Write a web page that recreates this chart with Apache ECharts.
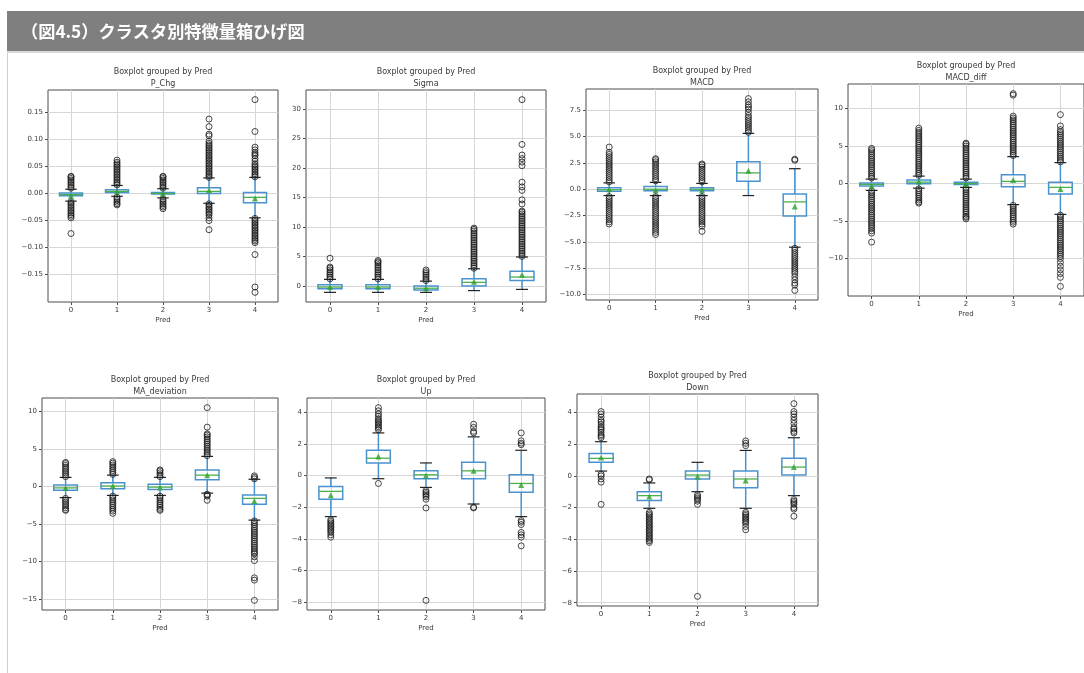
<!DOCTYPE html>
<html>
<head>
<meta charset="utf-8">
<script src="https://cdn.jsdelivr.net/npm/echarts@6/dist/echarts.min.js"></script>
<style>
  html, body { margin: 0; padding: 0; background: #ffffff; }
  #chart { width: 1084px; height: 673px; }
</style>
</head>
<body>
<div id="chart"></div>
<script>
// ---- text ----
const heading = '（図4.5）クラスタ別特徴量箱ひげ図';
const suptitle = 'Boxplot grouped by Pred';
const xName = 'Pred';
const clusters = [0, 1, 2, 3, 4];

// ---- per-feature statistics ----
// boxes: [lower whisker, Q1, median, Q3, upper whisker] per cluster
// fliers: outlying observations per cluster

const pChgBoxes = [
  [-0.014, -0.004, -0.002, 0.001, 0.008],
  [-0.005, 0.002, 0.004, 0.007, 0.015],
  [-0.008, -0.001, 0.000, 0.002, 0.009],
  [-0.018, 0.000, 0.004, 0.011, 0.029],
  [-0.045, -0.017, -0.007, 0.002, 0.030]
];
const pChgMeans = [-0.004, 0.004, 0.000, 0.006, -0.009];
const pChgFliers = [
  [0.010, 0.013, 0.016, 0.019, 0.022, 0.025, 0.028, 0.031, 0.032,
   -0.015, -0.018, -0.021, -0.024, -0.027, -0.030, -0.033, -0.036, -0.039, -0.042, -0.045, -0.074],
  [0.016, 0.019, 0.022, 0.025, 0.028, 0.031, 0.034, 0.037, 0.040, 0.043, 0.046, 0.049, 0.052, 0.055, 0.058, 0.062,
   -0.007, -0.010, -0.013, -0.016, -0.019, -0.021],
  [0.010, 0.013, 0.016, 0.019, 0.022, 0.025, 0.028, 0.031, 0.032,
   -0.010, -0.013, -0.016, -0.019, -0.022, -0.025, -0.028],
  [0.030, 0.033, 0.036, 0.039, 0.042, 0.045, 0.048, 0.051, 0.054, 0.057, 0.060, 0.063, 0.066, 0.069, 0.072,
   0.075, 0.078, 0.081, 0.084, 0.087, 0.090, 0.093, 0.097, 0.107, 0.110, 0.124, 0.138,
   -0.019, -0.022, -0.025, -0.028, -0.031, -0.034, -0.037, -0.040, -0.045, -0.050, -0.067],
  [0.031, 0.034, 0.037, 0.040, 0.043, 0.046, 0.049, 0.052, 0.055, 0.060, 0.065, 0.070, 0.073, 0.076, 0.081, 0.086,
   0.115, 0.174,
   -0.046, -0.049, -0.052, -0.055, -0.058, -0.061, -0.064, -0.067, -0.070, -0.073, -0.076, -0.079, -0.082,
   -0.085, -0.088, -0.091, -0.113, -0.173, -0.183]
];
const pChgTicks = [-0.15, -0.10, -0.05, 0.00, 0.05, 0.10, 0.15];

const sigmaBoxes = [
  [-1.1, -0.5, -0.2, 0.2, 1.1],
  [-1.1, -0.5, -0.2, 0.2, 1.1],
  [-1.1, -0.7, -0.4, 0.0, 0.8],
  [-0.8, 0.0, 0.6, 1.2, 2.9],
  [-0.6, 0.9, 1.5, 2.5, 4.9]
];
const sigmaMeans = [-0.2, -0.2, -0.4, 0.7, 1.9];
const sigmaFliers = [
  [1.2, 1.5, 1.8, 2.1, 2.4, 2.7, 3.0, 3.2, 4.7],
  [1.2, 1.5, 1.8, 2.1, 2.4, 2.7, 3.0, 3.3, 3.6, 3.9, 4.1, 4.3],
  [0.9, 1.2, 1.5, 1.8, 2.1, 2.4, 2.7],
  [3.0, 3.3, 3.6, 3.9, 4.2, 4.5, 4.8, 5.1, 5.4, 5.7, 6.0, 6.3, 6.6, 6.9, 7.2, 7.5, 7.8, 8.1, 8.4, 8.7,
   9.0, 9.3, 9.6, 9.8],
  [5.0, 5.3, 5.6, 5.9, 6.2, 6.5, 6.8, 7.1, 7.4, 7.7, 8.0, 8.3, 8.6, 8.9, 9.2, 9.5, 9.8, 10.1, 10.4, 10.7,
   11.0, 11.3, 11.6, 11.9, 12.2, 12.5, 12.7, 13.9, 14.6, 16.2, 16.8, 17.6, 20.4, 21.0, 21.6, 22.2, 24.0, 31.6]
];
const sigmaTicks = [0, 5, 10, 15, 20, 25, 30];

const macdBoxes = [
  [-0.6, -0.2, -0.05, 0.15, 0.6],
  [-0.6, -0.15, 0.0, 0.25, 0.65],
  [-0.6, -0.15, 0.0, 0.15, 0.55],
  [-0.6, 0.75, 1.55, 2.6, 5.3],
  [-5.5, -2.55, -1.2, -0.45, 1.95]
];
const macdMeans = [0.0, -0.1, -0.1, 1.75, -1.65];
const macdFliers = [
  [0.7, 0.9, 1.1, 1.3, 1.5, 1.7, 1.9, 2.1, 2.3, 2.5, 2.7, 2.9, 3.1, 3.3, 3.5, 4.0,
   -0.7, -0.9, -1.1, -1.3, -1.5, -1.7, -1.9, -2.1, -2.3, -2.5, -2.7, -2.9, -3.1, -3.3],
  [0.8, 1.0, 1.2, 1.4, 1.6, 1.8, 2.0, 2.2, 2.4, 2.6, 2.8, 2.9,
   -0.7, -0.9, -1.1, -1.3, -1.5, -1.7, -1.9, -2.1, -2.3, -2.5, -2.7, -2.9, -3.1, -3.3, -3.5, -3.7, -3.9, -4.1, -4.3],
  [0.7, 0.9, 1.1, 1.3, 1.5, 1.7, 1.9, 2.1, 2.3, 2.4,
   -0.7, -0.9, -1.1, -1.3, -1.5, -1.7, -1.9, -2.1, -2.3, -2.5, -2.7, -2.9, -3.1, -3.3, -3.5, -4.0],
  [5.4, 5.6, 5.8, 6.0, 6.2, 6.4, 6.6, 6.8, 7.0, 7.3, 7.6, 7.8, 8.0, 8.3, 8.6],
  [2.75, 2.85,
   -5.6, -5.8, -6.0, -6.2, -6.4, -6.6, -6.8, -7.0, -7.2, -7.4, -7.6, -7.8, -8.0, -8.3, -8.6, -8.9, -9.1, -9.6]
];
const macdTicks = [-10, -7.5, -5, -2.5, 0, 2.5, 5, 7.5];

const macdDiffBoxes = [
  [-0.9, -0.3, -0.1, 0.1, 0.6],
  [-0.6, 0.0, 0.2, 0.5, 1.0],
  [-0.5, -0.1, 0.0, 0.2, 0.6],
  [-2.8, -0.4, 0.3, 1.2, 3.6],
  [-4.1, -1.4, -0.5, 0.2, 2.8]
];
const macdDiffMeans = [-0.3, 0.3, -0.05, 0.5, -0.7];
const macdDiffFliers = [
  [0.75, 1.0, 1.25, 1.5, 1.75, 2.0, 2.25, 2.5, 2.75, 3.0, 3.25, 3.5, 3.75, 4.0, 4.25, 4.5, 4.7,
   -1.0, -1.25, -1.5, -1.75, -2.0, -2.25, -2.5, -2.75, -3.0, -3.25, -3.5, -3.75, -4.0, -4.25, -4.5, -4.75,
   -5.0, -5.25, -5.5, -5.75, -6.0, -6.3, -6.6, -7.8],
  [1.1, 1.35, 1.6, 1.85, 2.1, 2.35, 2.6, 2.85, 3.1, 3.35, 3.6, 3.85, 4.1, 4.35, 4.6, 4.85, 5.1, 5.35, 5.6,
   5.85, 6.1, 6.35, 6.6, 6.85, 7.1, 7.4,
   -0.7, -0.95, -1.2, -1.45, -1.7, -1.95, -2.2, -2.45, -2.6],
  [0.75, 1.0, 1.25, 1.5, 1.75, 2.0, 2.25, 2.5, 2.75, 3.0, 3.25, 3.5, 3.75, 4.0, 4.25, 4.5, 4.75, 5.0, 5.25, 5.4,
   -0.6, -0.85, -1.1, -1.35, -1.6, -1.85, -2.1, -2.35, -2.6, -2.85, -3.1, -3.35, -3.6, -3.85, -4.1, -4.35, -4.5, -4.7],
  [3.75, 4.0, 4.25, 4.5, 4.75, 5.0, 5.25, 5.5, 5.75, 6.0, 6.25, 6.5, 6.75, 7.0, 7.25, 7.5, 7.75, 8.0, 8.25,
   8.5, 8.75, 9.0, 11.8, 12.0,
   -2.9, -3.15, -3.4, -3.65, -3.9, -4.15, -4.4, -4.65, -4.9, -5.15, -5.4],
  [2.9, 3.15, 3.4, 3.65, 3.9, 4.15, 4.4, 4.65, 4.9, 5.15, 5.4, 5.65, 5.9, 6.15, 6.4, 6.65, 6.9, 7.2, 7.7, 9.2,
   -4.2, -4.45, -4.7, -4.95, -5.2, -5.45, -5.7, -5.95, -6.2, -6.45, -6.7, -6.95, -7.2, -7.45, -7.7, -7.95,
   -8.2, -8.45, -8.7, -8.95, -9.2, -9.45, -9.7, -10.0, -10.5, -11.0, -11.5, -12.0, -12.5, -13.7]
];
const macdDiffTicks = [-15, -10, -5, 0, 5, 10];

const maDevBoxes = [
  [-1.5, -0.5, -0.2, 0.2, 1.2],
  [-1.2, -0.3, 0.05, 0.5, 1.5],
  [-1.2, -0.4, -0.1, 0.3, 1.2],
  [-0.9, 0.9, 1.5, 2.2, 4.0],
  [-4.5, -2.4, -1.6, -1.15, 0.95]
];
const maDevMeans = [-0.2, 0.05, -0.1, 1.5, -1.95];
const maDevFliers = [
  [1.3, 1.55, 1.8, 2.05, 2.3, 2.55, 2.8, 3.05, 3.2,
   -1.6, -1.85, -2.1, -2.35, -2.6, -2.85, -3.1, -3.2],
  [1.6, 1.85, 2.1, 2.35, 2.6, 2.85, 3.1, 3.3,
   -1.3, -1.55, -1.8, -2.05, -2.3, -2.55, -2.8, -3.05, -3.3, -3.6],
  [1.3, 1.55, 1.8, 2.05, 2.2,
   -1.3, -1.55, -1.8, -2.05, -2.3, -2.55, -2.8, -3.05, -3.2],
  [4.1, 4.35, 4.6, 4.85, 5.1, 5.35, 5.6, 5.85, 6.1, 6.35, 6.6, 6.85, 7.0, 7.9, 10.5,
   -1.05, -1.15, -1.3, -1.85],
  [1.0, 1.2, 1.4,
   -4.6, -4.85, -5.1, -5.35, -5.6, -5.85, -6.1, -6.35, -6.6, -6.85, -7.1, -7.35, -7.6, -7.85, -8.1, -8.35,
   -8.6, -8.85, -9.0, -9.4, -9.9, -12.2, -12.5, -15.2]
];
const maDevTicks = [-15, -10, -5, 0, 5, 10];

const upBoxes = [
  [-2.6, -1.5, -1.0, -0.7, -0.15],
  [-0.2, 0.8, 1.1, 1.6, 2.7],
  [-0.75, -0.2, 0.05, 0.3, 0.8],
  [-1.8, -0.2, 0.3, 0.85, 2.45],
  [-2.6, -1.05, -0.5, 0.05, 1.6]
];
const upMeans = [-1.25, 1.2, 0.0, 0.3, -0.6];
const upFliers = [
  [-2.8, -2.9, -3.0, -3.1, -3.2, -3.3, -3.4, -3.5, -3.6, -3.75, -3.9],
  [2.9, 3.0, 3.1, 3.2, 3.3, 3.4, 3.5, 3.6, 3.75, 3.9, 4.1, 4.3, -0.5],
  [-0.95, -1.05, -1.15, -1.25, -1.35, -1.5, -2.05, -7.9],
  [2.7, 2.8, 3.05, 3.25, -2.0, -2.05],
  [1.95, 2.05, 2.2, 2.7, -2.85, -2.95, -3.1, -3.6, -3.75, -3.9, -4.45]
];
const upTicks = [-8, -6, -4, -2, 0, 2, 4];

const downBoxes = [
  [0.3, 0.85, 1.1, 1.4, 2.15],
  [-2.05, -1.55, -1.25, -1.0, -0.45],
  [-1.0, -0.2, 0.05, 0.3, 0.85],
  [-2.05, -0.75, -0.2, 0.3, 1.6],
  [-1.25, 0.05, 0.55, 1.1, 2.4]
];
const downMeans = [1.15, -1.3, -0.05, -0.3, 0.55];
const downFliers = [
  [2.4, 2.5, 2.6, 2.75, 2.9, 3.0, 3.1, 3.25, 3.4, 3.5, 3.7, 3.9, 4.05, 0.1, 0.0, -0.2, -0.4, -1.8],
  [-0.2, -0.25,
   -2.3, -2.4, -2.5, -2.6, -2.7, -2.8, -2.9, -3.0, -3.1, -3.2, -3.3, -3.4, -3.5, -3.6, -3.7, -3.8, -3.9, -4.0, -4.1, -4.2],
  [-1.2, -1.3, -1.4, -1.5, -1.6, -1.8, -7.6],
  [1.9, 2.05, 2.2, -2.3, -2.4, -2.5, -2.6, -2.7, -2.8, -2.9, -3.0, -3.2, -3.4],
  [2.7, 2.8, 2.95, 3.05, 3.3, 3.5, 3.7, 3.9, 4.05, 4.55, -1.5, -1.6, -1.7, -1.8, -2.0, -2.1, -2.55]
];
const downTicks = [-8, -6, -4, -2, 0, 2, 4];

// ---- panel assembly ----
const panels = [
  { name: 'P_Chg',        boxes: pChgBoxes,     means: pChgMeans,     fliers: pChgFliers,     ticks: pChgTicks,     decimals: 2 },
  { name: 'Sigma',        boxes: sigmaBoxes,    means: sigmaMeans,    fliers: sigmaFliers,    ticks: sigmaTicks,    decimals: 0 },
  { name: 'MACD',         boxes: macdBoxes,     means: macdMeans,     fliers: macdFliers,     ticks: macdTicks,     decimals: 1 },
  { name: 'MACD_diff',    boxes: macdDiffBoxes, means: macdDiffMeans, fliers: macdDiffFliers, ticks: macdDiffTicks, decimals: 0 },
  { name: 'MA_deviation', boxes: maDevBoxes,    means: maDevMeans,    fliers: maDevFliers,    ticks: maDevTicks,    decimals: 0 },
  { name: 'Up',           boxes: upBoxes,       means: upMeans,       fliers: upFliers,       ticks: upTicks,       decimals: 0 },
  { name: 'Down',         boxes: downBoxes,     means: downMeans,     fliers: downFliers,     ticks: downTicks,     decimals: 0 }
];

// plot rectangles: [left, top, width, height] in px
const panelRects = [
  [48, 90, 230, 212],
  [306, 90, 240, 212],
  [586, 89, 232, 211],
  [848, 84, 236, 212],
  [42, 398, 236, 212],
  [307, 398, 238, 212],
  [577, 394, 241, 212]
];

// ---- styling ----
const TEXT = '#3a3a3a';
const FRAME = '#4d4d4d';
const GRIDLINE = '#d6d6d6';
const BOX_BLUE = '#4a92cf';
const MEDIAN_GREEN = '#4db04d';
const MEAN_GREEN = '#2ca02c';
const FONT = '"DejaVu Sans", sans-serif';

function fmt(v, d) {
  const s = Math.abs(v).toFixed(d);
  return (v < 0 && Number(s) !== 0 ? '\u2212' : '') + s;
}

// value extent of a panel with a 5% margin either side
function extentOf(p) {
  let lo = Infinity, hi = -Infinity;
  p.boxes.forEach(b => { lo = Math.min(lo, b[0]); hi = Math.max(hi, b[4]); });
  p.fliers.forEach(f => f.forEach(v => { lo = Math.min(lo, v); hi = Math.max(hi, v); }));
  p.means.forEach(v => { lo = Math.min(lo, v); hi = Math.max(hi, v); });
  const pad = (hi - lo) * 0.05;
  return [lo - pad, hi + pad];
}

function renderBox(params, api) {
  const x = api.value(0);
  const unit = api.size([1, 0])[0];
  const bw = unit * 0.5;
  const cw = unit * 0.25;
  const pLow = api.coord([x, api.value(1)]);
  const pQ1 = api.coord([x, api.value(2)]);
  const pMed = api.coord([x, api.value(3)]);
  const pQ3 = api.coord([x, api.value(4)]);
  const pHigh = api.coord([x, api.value(5)]);
  const cx = pLow[0];
  const blue = { stroke: BOX_BLUE, lineWidth: 1.5, fill: null };
  return {
    type: 'group',
    children: [
      { type: 'line', shape: { x1: cx, y1: pQ1[1], x2: cx, y2: pLow[1] }, style: blue },
      { type: 'line', shape: { x1: cx, y1: pQ3[1], x2: cx, y2: pHigh[1] }, style: blue },
      { type: 'line', shape: { x1: cx - cw / 2, y1: pLow[1], x2: cx + cw / 2, y2: pLow[1] },
        style: { stroke: '#222', lineWidth: 1.2 } },
      { type: 'line', shape: { x1: cx - cw / 2, y1: pHigh[1], x2: cx + cw / 2, y2: pHigh[1] },
        style: { stroke: '#222', lineWidth: 1.2 } },
      { type: 'rect', shape: { x: cx - bw / 2, y: pQ3[1], width: bw, height: pQ1[1] - pQ3[1] },
        style: { stroke: BOX_BLUE, lineWidth: 1.5, fill: 'rgba(255,255,255,0)' } },
      { type: 'line', shape: { x1: cx - bw / 2, y1: pMed[1], x2: cx + bw / 2, y2: pMed[1] },
        style: { stroke: MEDIAN_GREEN, lineWidth: 1.3 } }
    ]
  };
}

const grid = [], xAxis = [], yAxis = [], series = [], graphic = [];

// page heading band
graphic.push(
  { type: 'rect', shape: { x: 7, y: 11, width: 1077, height: 40 }, style: { fill: '#7f7f7f' }, silent: true },
  { type: 'rect', shape: { x: 7, y: 51, width: 1077, height: 2 }, style: { fill: '#d9d9d9' }, silent: true },
  { type: 'rect', shape: { x: 7, y: 53, width: 1, height: 620 }, style: { fill: '#cfcfcf' }, silent: true },
  { type: 'text', x: 21, y: 31, style: { text: heading, fill: '#ffffff',
      font: 'bold 17.2px "Noto Sans CJK JP", sans-serif', verticalAlign: 'middle' }, silent: true }
);

panels.forEach((p, i) => {
  const [left, top, width, height] = panelRects[i];
  const [yMin, yMax] = extentOf(p);
  grid.push({ left, top, width, height, show: true, borderColor: FRAME, borderWidth: 1,
              backgroundColor: 'transparent', containLabel: false });
  xAxis.push({
    type: 'value', gridIndex: i, min: -0.5, max: clusters.length - 0.5, position: 'bottom',
    name: xName, nameLocation: 'middle', nameGap: 15,
    nameTextStyle: { color: TEXT, fontFamily: FONT, fontSize: 7 },
    axisLine: { show: false, onZero: false },
    axisTick: { show: true, length: 3, customValues: clusters, lineStyle: { color: FRAME, width: 1 } },
    axisLabel: { customValues: clusters, margin: 5, color: TEXT, fontFamily: FONT, fontSize: 7,
                 formatter: v => String(v) },
    splitLine: { show: true, lineStyle: { color: GRIDLINE, width: 1 } }
  });
  yAxis.push({
    type: 'value', gridIndex: i, min: yMin, max: yMax, position: 'left',
    axisLine: { show: false, onZero: false },
    axisTick: { show: true, length: 3, customValues: p.ticks, lineStyle: { color: FRAME, width: 1 } },
    axisLabel: { customValues: p.ticks, margin: 5, color: TEXT, fontFamily: FONT, fontSize: 7,
                 formatter: v => fmt(v, p.decimals) },
    splitLine: { show: true, lineStyle: { color: GRIDLINE, width: 1 } }
  });

  series.push({
    type: 'custom', xAxisIndex: i, yAxisIndex: i, silent: true,
    renderItem: renderBox,
    encode: { x: 0, y: [1, 2, 3, 4, 5] },
    data: p.boxes.map((b, c) => [clusters[c]].concat(b))
  });
  const flierData = [];
  p.fliers.forEach((list, c) => list.forEach(v => flierData.push([clusters[c], v])));
  series.push({
    type: 'scatter', xAxisIndex: i, yAxisIndex: i, silent: true,
    symbol: 'circle', symbolSize: 6,
    itemStyle: { color: 'rgba(255,255,255,0)', borderColor: '#1c1c1c', borderWidth: 1 },
    data: flierData
  });
  series.push({
    type: 'scatter', xAxisIndex: i, yAxisIndex: i, silent: true,
    symbol: 'triangle', symbolSize: 6,
    itemStyle: { color: MEAN_GREEN },
    data: p.means.map((m, c) => [clusters[c], m])
  });

  const cx = left + width / 2;
  graphic.push(
    { type: 'text', x: cx, y: top - 18, style: { text: suptitle, fill: TEXT,
        font: '8px ' + FONT, align: 'center', verticalAlign: 'middle' }, silent: true },
    { type: 'text', x: cx, y: top - 6, style: { text: p.name, fill: TEXT,
        font: '8px ' + FONT, align: 'center', verticalAlign: 'middle' }, silent: true }
  );
});

const chart = echarts.init(document.getElementById('chart'), null, { renderer: 'canvas' });
chart.setOption({
  animation: false,
  backgroundColor: '#ffffff',
  grid, xAxis, yAxis, series, graphic
});
</script>
</body>
</html>
